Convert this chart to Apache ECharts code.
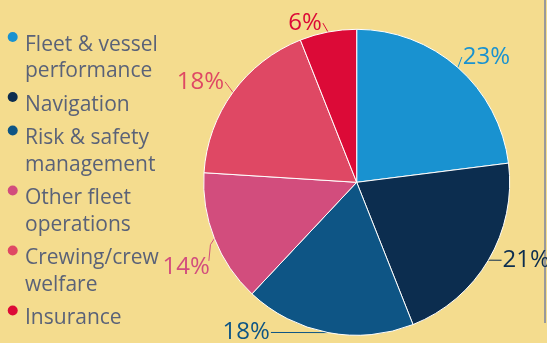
<!DOCTYPE html>
<html>
<head>
<meta charset="utf-8">
<script src="https://cdn.jsdelivr.net/npm/echarts@6/dist/echarts.min.js"></script>
<style>
html,body{margin:0;padding:0;background:#f4dc8e;}
#c{width:547px;height:343px;}
</style>
</head>
<body>
<div id="c"></div>
<script>
const categories = ["Fleet & vessel\nperformance", "Navigation", "Risk & safety\nmanagement", "Other fleet\noperations", "Crewing/crew\nwelfare", "Insurance"];
const values = [23, 21, 18, 14, 18, 6];
const colors = ["#1992d0", "#0c2d4f", "#0e5585", "#d24d7d", "#df4864", "#dc0a37"];

const chart = echarts.init(document.getElementById('c'));
const font = '"Open Sans", sans-serif';
const CX = 356.7, CY = 182.3;

// Legend built with graphic elements (icon aligned to first text line)
const legendGraphics = [];
let y = 53;
categories.forEach((name, i) => {
  const lines = name.split('\n').length;
  legendGraphics.push({
    type: 'circle', shape: {cx: 12.7, cy: y - 16, r: 5},
    style: {fill: colors[i]}
  });
  legendGraphics.push({
    type: 'text', x: 25, y: y - 21.5,
    style: {text: name, fill: '#5a6278', font: '21px ' + font, lineHeight: 26.5, textVerticalAlign: 'top'}
  });
  y += lines * 26.5 + 7;
});
legendGraphics.push({type: 'line', shape: {x1: 545, y1: 0, x2: 545, y2: 323}, style: {stroke: '#999', lineWidth: 2}});

// small nudges of label placement, by slice index
const labelShift = [[-8, -6], [0, -3], [-48, -6], [10, 26], [5, -7], [4, -3]];

chart.setOption({
  backgroundColor: '#f4dc8e',
  animation: false,
  graphic: legendGraphics,
  series: [{
    type: 'pie',
    center: [CX, CY],
    radius: 153,
    startAngle: 90,
    clockwise: true,
    avoidLabelOverlap: false,
    itemStyle: {borderColor: '#fff', borderWidth: 1},
    label: {
      show: true, position: 'outside',
      formatter: '{c}%',
      fontFamily: font, fontSize: 24,
      color: 'inherit'
    },
    labelLine: {show: true, length: 6, length2: 4, minTurnAngle: 0, maxSurfaceAngle: 180, lineStyle: {width: 1}},
    labelLayout: function (p) {
      const s = labelShift[p.dataIndex];
      const out = {dx: s[0], dy: s[1]};
      const pts = p.labelLinePoints;
      if (pts && pts.length) {
        const r = p.labelRect;
        const nx = r.x + s[0], ny = r.y + s[1];
        const left = (r.x + r.width / 2) < CX;
        if (p.dataIndex === 3) {
          out.labelLinePoints = [pts[0], [pts[0][0] - 4, pts[0][1] + 6], [nx + r.width - 1, ny + 6]];
        } else {
          const end = left ? [nx + r.width + 1, ny + r.height / 2] : [nx - 1, ny + r.height / 2];
          out.labelLinePoints = [pts[0], end];
        }
      }
      return out;
    },
    data: values.map((v, i) => ({
      value: v, name: categories[i],
      itemStyle: {color: colors[i]},
      label: {color: colors[i]},
      labelLine: {lineStyle: {color: colors[i]}}
    }))
  }]
});
</script>
</body>
</html>
